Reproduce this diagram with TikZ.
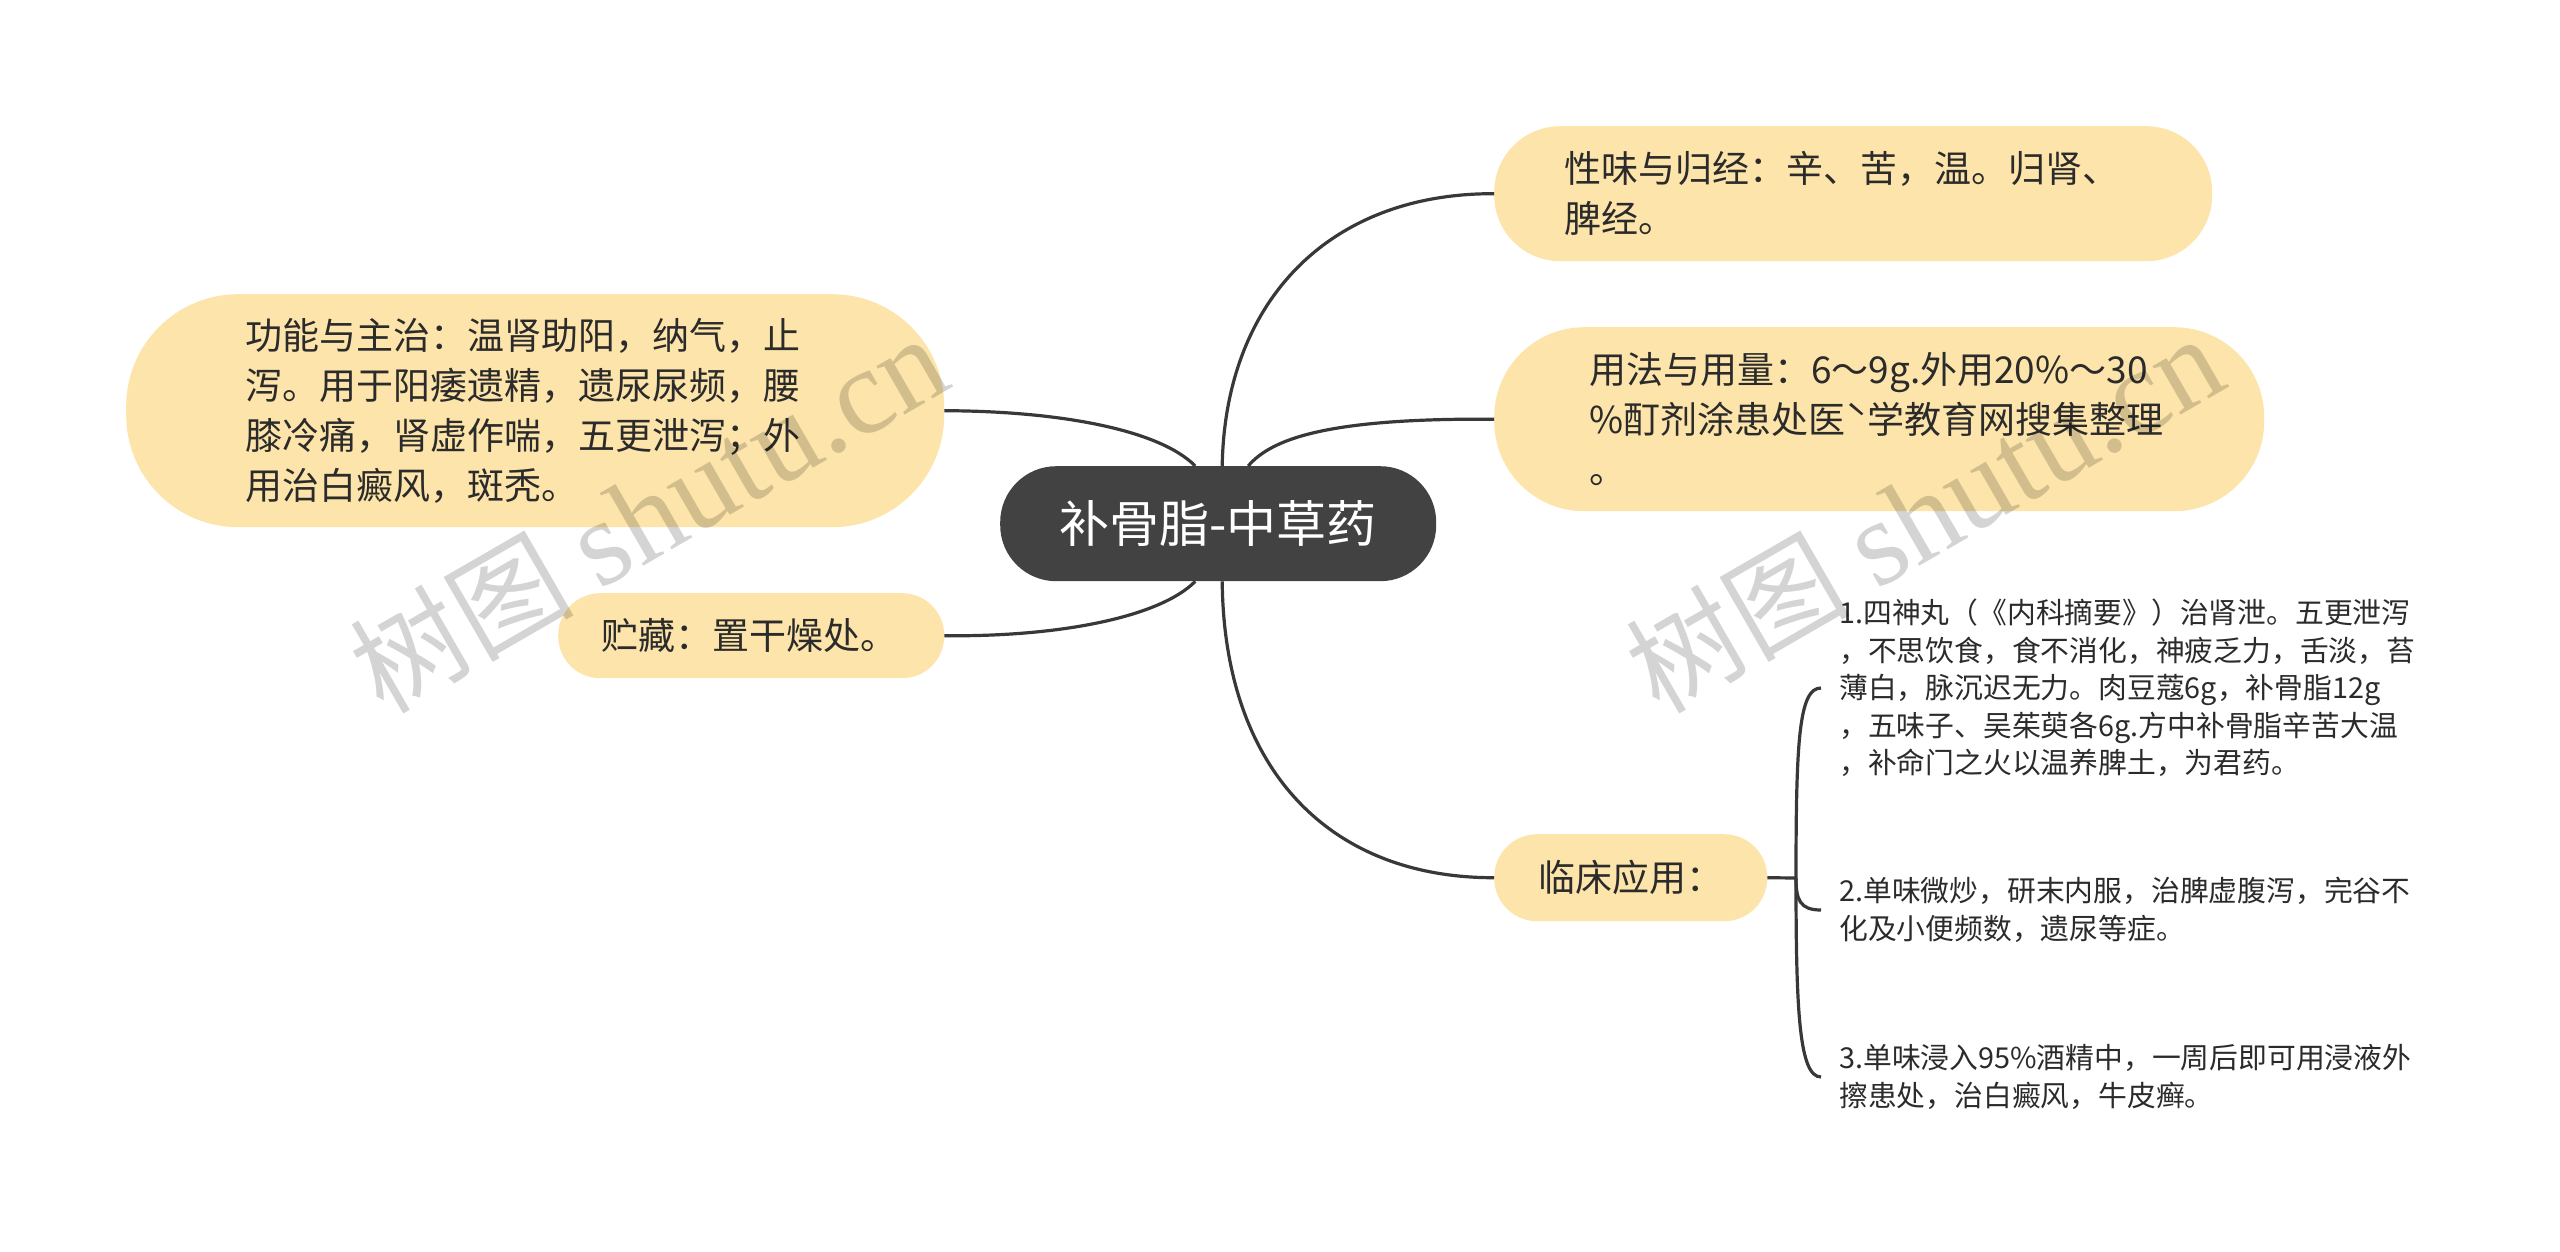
\documentclass[tikz,border=0pt]{standalone}
\usepackage{fontspec}
\setmainfont{Noto Sans CJK SC}
\newfontfamily\wmserif{Liberation Serif}
\newfontfamily\wmcjk{Noto Sans CJK SC}
\definecolor{topicfill}{HTML}{FDE4AA}
\definecolor{rootfill}{HTML}{424242}
\definecolor{linecol}{HTML}{383838}
\definecolor{txt}{HTML}{2B2B2B}
\begin{document}
\begin{tikzpicture}[x=1pt,y=-1pt,
  topic/.style={fill=topicfill, anchor=north west, inner ysep=0pt, align=left, text=txt,
    font=\fontsize{37}{50}\selectfont},
  itemtext/.style={anchor=west, inner sep=0pt, align=left, text=txt,
    font=\fontsize{28.8}{37.5}\selectfont},
  link/.style={draw=linecol, line width=3.2pt},
  watermark/.style={rotate=30, text=black, text opacity=0.17, inner sep=0pt}
]
\useasboundingbox (0,0) rectangle (2560,1251);

% root
\node[fill=rootfill, text=white, anchor=north west, minimum width=436pt, minimum height=115pt,
  inner sep=0pt, rounded corners=56pt, font=\fontsize{50}{56}\selectfont] (root) at (1000,466) {补骨脂-中草药};

% main topics
\node[topic, minimum width=718pt, minimum height=135pt, inner xsep=70pt, text width=578pt,
  rounded corners=66pt] (xw) at (1494,126) {性味与归经：辛、苦，温。归肾、\\脾经。};
\node[topic, minimum width=770pt, minimum height=184pt, inner xsep=95pt, text width=580pt,
  rounded corners=90pt] (yf) at (1494,327) {用法与用量：6～9g.外用20\%～30\\\%酊剂涂患处医ˋ学教育网搜集整理\\。};
\node[topic, minimum width=818pt, minimum height=233pt, inner xsep=119pt, text width=580pt,
  rounded corners=112pt] (gn) at (126,294) {功能与主治：温肾助阳，纳气，止\\泻。用于阳痿遗精，遗尿尿频，腰\\膝冷痛，肾虚作喘，五更泄泻；外\\用治白癜风，斑秃。};
\node[topic, minimum width=386pt, minimum height=85pt, inner xsep=43pt, text width=300pt,
  rounded corners=42pt] (zc) at (558,593) {贮藏：置干燥处。};
\node[topic, minimum width=273pt, minimum height=87pt, inner xsep=44pt, text width=185pt,
  rounded corners=43pt] (lc) at (1494,834) {临床应用：};

% clinical items
\node[itemtext] (i1) at (1839,688) {1.四神丸（《内科摘要》）治肾泄。五更泄泻\\，不思饮食，食不消化，神疲乏力，舌淡，苔\\薄白，脉沉迟无力。肉豆蔻6g，补骨脂12g\\，五味子、吴茱萸各6g.方中补骨脂辛苦大温\\，补命门之火以温养脾土，为君药。};
\node[itemtext] (i2) at (1839,910) {2.单味微炒，研末内服，治脾虚腹泻，完谷不\\化及小便频数，遗尿等症。};
\node[itemtext] (i3) at (1839,1077) {3.单味浸入95\%酒精中，一周后即可用浸液外\\擦患处，治白癜风，牛皮癣。};

% connectors from root
\draw[link] ([xshift=4pt]root.north) .. controls (1225,300) and (1330,193) .. (xw.west);
\draw[link] ([xshift=30pt]root.north) .. controls (1272,438) and (1330,418) .. (yf.west);
\draw[link] ([xshift=-23pt]root.north) .. controls (1160,430) and (1060,411) .. (gn.east);
\draw[link] ([xshift=-23pt]root.south) .. controls (1160,617) and (1060,637) .. (zc.east);
\draw[link] ([xshift=4pt]root.south) .. controls (1224,770) and (1330,878) .. (lc.west);

% bracket to items
\coordinate (bj) at (1796,878);
\draw[link] (lc.east) -- (bj);
\draw[link] (bj) .. controls (1796,740) and (1799,688) .. ([xshift=-18pt]i1.west);
\draw[link] (bj) .. controls (1796,900) and (1800,910) .. ([xshift=-18pt]i2.west);
\draw[link] (bj) .. controls (1796,1010) and (1799,1077) .. ([xshift=-18pt]i3.west);

% watermarks
\node[watermark] (wm1) at (648,514) {{\wmcjk\fontsize{112}{112}\selectfont 树图}\hspace{26pt}{\wmserif\fontsize{122}{122}\selectfont shutu.cn}};
\node[watermark] (wm2) at (1924,514) {{\wmcjk\fontsize{112}{112}\selectfont 树图}\hspace{26pt}{\wmserif\fontsize{122}{122}\selectfont shutu.cn}};
\end{tikzpicture}
\end{document}
